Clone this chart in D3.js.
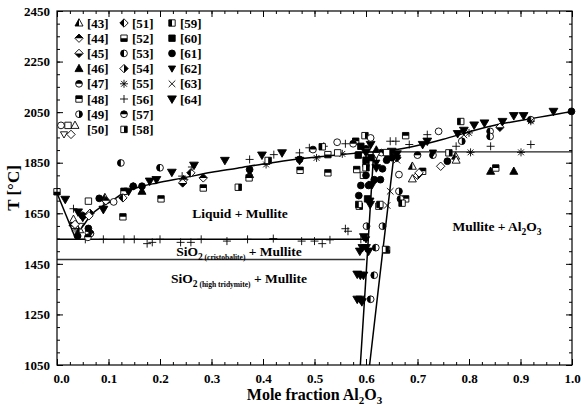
<!DOCTYPE html>
<html><head><meta charset="utf-8">
<script src="https://cdn.jsdelivr.net/npm/d3@7"></script>
<style>
body{margin:0;background:#fff;}
svg{display:block;font-family:"Liberation Serif","Times New Roman",serif;font-weight:bold;}
</style></head>
<body><svg id="c" width="581" height="405"></svg>
<script>
// ---------- DATA (mole fraction Al2O3, T in °C) ----------
const xTicks = [0,0.1,0.2,0.3,0.4,0.5,0.6,0.7,0.8,0.9,1.0];
const yTicks = [1050,1250,1450,1650,1850,2050,2250,2450];

const liquidus = [[0,1730],[0.035,1555],[0.05,1598],[0.067,1645],[0.084,1673],[0.106,1698],[0.129,1731],[0.155,1751],[0.194,1770],[0.246,1790],[0.3,1812],[0.35,1828],[0.4,1845],[0.45,1860],[0.5,1872],[0.55,1882],[0.6,1891],[0.65,1899],[0.7,1918],[0.75,1943],[0.8,1972],[0.85,1998],[0.9,2017],[0.95,2035],[1.0,2053]];
const mulliteLeft = [[0.589,1050],[0.599,1369],[0.615,1893]];
const mulliteRight = [[0.607,1050],[0.625,1369],[0.655,1893]];
const eutecticLine = [[0,1547],[0.602,1547]];
const tridymiteLine = [[0,1467],[0.598,1467]];
const mulliteAluminaLine = [[0.58,1893],[1.0,1893]];

const s43 = [[0.031,1612],[0.093,1712],[0.69,1836],[0.774,1876],[0.044,1585]];
const s44 = [[0.246,1783],[0.284,1790],[0.095,1700]];
const s45 = [[0.244,1770],[0.05,1640],[0.86,1990]];
const s46 = [[0.165,1737],[0.374,1803],[0.842,1816],[0.887,1816],[0.62,1900]];
const s47 = [[0.497,1902],[0.065,1570],[0.6,1905]];
const s48 = [[0.128,1636],[0.202,1707],[0.284,1750],[0.373,1790],[0.472,1820],[0.526,1810],[0.582,1823],[0.677,1707],[0.71,1816],[0.852,1829],[0.13,1737],[0.677,1957],[0.58,1935]];
const s49 = [[0.601,1599],[0.632,1599],[0.664,1737],[0.061,1573],[0.786,1935]];
const s50Circle = [[0.544,1931],[0.609,1948],[0.664,1803],[0.741,1974],[0.11,1695]];
const s50Square = [[0.061,1698],[0.545,1889],[0.64,1890]];
const s50Triangle = [[0.032,1626],[0.69,1786],[0.775,1860]];
const s50Down = [[0.045,1600],[0.62,1880]];
const s50Diamond = [[0.035,1606],[0.703,1810],[0.745,1836],[0.062,1640]];
const s51 = [[0.128,1711],[0.26,1810]];
const s52 = [[0.0,1735],[0.526,1882],[0.64,1505]];
const s53 = [[0.124,1849],[0.2,1830],[0.619,1514],[0.616,1405],[0.609,1310],[0.667,1707],[0.92,2020],[0.841,1974],[0.841,1954],[0.73,1880],[0.6,1840],[0.615,1870]];
const s54 = [[0.064,1650],[0.66,1870],[0.7,1800]];
const s55 = [[0.554,1885],[0.803,1891],[0.901,1891],[0.8,1968],[0.406,1843],[0.504,1869],[0.92,2014],[0.65,1880],[0.035,1590]];
const s56 = [[0.032,1668],[0.09,1678],[0.148,1757],[0.243,1797],[0.262,1833],[0.374,1863],[0.421,1882],[0.471,1889],[0.49,1909],[0.518,1915],[0.56,1925],[0.647,1935],[0.658,1935],[0.684,1922],[0.719,1961],[0.775,1915],[0.842,1915],[0.92,1922],[0.56,1589],[0.565,1579],
  [0.055,1547],[0.09,1547],[0.13,1547],[0.15,1547],[0.175,1530],[0.185,1535],[0.2,1547],[0.24,1535],[0.26,1535],[0.28,1547],[0.33,1540],[0.37,1547],[0.42,1550],[0.475,1540],[0.5,1540],[0.515,1530],[0.53,1545],[0.59,1547]];
const s57 = [[0.06,1555],[0.575,1925],[0.63,1890],[0.7,1880]];
const s58 = [[0.598,1957],[0.638,1507],[0.352,1753],[0.761,1889],[0.41,1859],[0.587,1678],[0.625,1678],[0.595,1800],[0.6,1830]];
const s59 = [[0.586,1685],[0.627,1685],[0.784,2013],[0.515,1913],[0.67,1690]];
const s60 = [[0.603,1707],[0.6,1860],[0.61,1870],[0.585,1880],[0.59,1915]];
const s61 = [[0.082,1709],[0.061,1590],[0.148,1757],[0.165,1757],[0.374,1823],[0.471,1863],[0.586,1720],[0.628,1783],[0.616,1783],[0.632,1826],[0.758,1856],[0.999,2053],[0.05,1640],[0.04,1560],[0.6,1800],[0.605,1760],[0.59,1760],[0.64,1860],[0.65,1870]];
const s62 = [[0.6,1547],[0.62,1850],[0.66,1870],[0.73,1890]];
const s63 = [[0.647,1737],[0.641,1681],[0.66,1860],[0.79,1960]];
const s64 = [[0.016,1705],[0.041,1655],[0.05,1634],[0.09,1665],[0.139,1737],[0.18,1777],[0.193,1783],[0.223,1812],[0.266,1840],[0.326,1859],[0.398,1880],[0.437,1889],[0.471,1859],[0.609,1922],[0.608,1685],[0.596,1557],[0.593,1514],[0.6,1514],[0.583,1409],[0.595,1405],[0.589,1310],[0.583,1310],[0.71,1922],[0.719,1935],[0.778,1965],[0.79,1978],[0.81,1999],[0.83,2007],[0.865,2013],[0.887,2036],[0.906,2036],[0.964,2053],[0.607,1698],[0.612,1764],[0.62,1830],[0.6,1890],[0.64,1880],[0.588,1500],[0.605,1500],[0.589,1405],[0.592,1300],[0.65,1895],[0.66,1885]];

// ---------- STYLES ----------
const seriesStyles = [
  {id:"[43]", data:s43, shape:"triUp", fill:"left"},
  {id:"[44]", data:s44, shape:"diamond", fill:"top"},
  {id:"[45]", data:s45, shape:"diamond", fill:"bottom"},
  {id:"[46]", data:s46, shape:"triUp", fill:"full"},
  {id:"[47]", data:s47, shape:"circle", fill:"top"},
  {id:"[48]", data:s48, shape:"square", fill:"top"},
  {id:"[49]", data:s49, shape:"circle", fill:"right"},
  {id:"[50]", data:null},
  {id:"[51]", data:s51, shape:"diamond", fill:"left"},
  {id:"[52]", data:s52, shape:"square", fill:"bottom"},
  {id:"[53]", data:s53, shape:"circle", fill:"left"},
  {id:"[54]", data:s54, shape:"diamond", fill:"right"},
  {id:"[55]", data:s55, shape:"asterisk", fill:"open"},
  {id:"[56]", data:s56, shape:"plus", fill:"open"},
  {id:"[57]", data:s57, shape:"circle", fill:"top"},
  {id:"[58]", data:s58, shape:"square", fill:"right"},
  {id:"[59]", data:s59, shape:"square", fill:"left"},
  {id:"[60]", data:s60, shape:"square", fill:"full"},
  {id:"[61]", data:s61, shape:"circle", fill:"full"},
  {id:"[62]", data:s62, shape:"triDownSmall", fill:"full"},
  {id:"[63]", data:s63, shape:"cross", fill:"open"},
  {id:"[64]", data:s64, shape:"triDown", fill:"full"}
];
const s50Parts = [
  {data:s50Circle, shape:"circle"},{data:s50Square, shape:"square"},
  {data:s50Triangle, shape:"triUp"},{data:s50Down, shape:"triDownSmall"},
  {data:s50Diamond, shape:"diamond"}
];

const W=581,H=405, L=57, R=572, T=11, B=365;
const svg=d3.select("#c");
const x=d3.scaleLinear().domain([0,1]).range([L,R]);
const y=d3.scaleLinear().domain([1050,2450]).range([B,T]);

const defs=svg.append("defs");
[["top",-10,-10,20,10],["bottom",-10,0,20,10],["left",-10,-10,10,20],["right",0,-10,10,20]].forEach(c=>{
  defs.append("clipPath").attr("id","clip-"+c[0]).append("rect")
   .attr("x",c[1]).attr("y",c[2]).attr("width",c[3]).attr("height",c[4]);
});

const shapes={
  circle:"M3.4,0A3.4,3.4 0 1,1 -3.4,0A3.4,3.4 0 1,1 3.4,0Z",
  square:"M-3.2,-3.2H3.2V3.2H-3.2Z",
  diamond:"M0,-4.2L4.2,0L0,4.2L-4.2,0Z",
  triUp:"M0,-4.3L4,3L-4,3Z",
  triDown:"M0,4.4L4.4,-3.1L-4.4,-3.1Z",
  triDownSmall:"M0,3.6L3.6,-2.6L-3.6,-2.6Z",
  plus:"M-4,0H4M0,-4V4",
  cross:"M-3.3,-3.3L3.3,3.3M-3.3,3.3L3.3,-3.3",
  asterisk:"M-4,0H4M0,-4V4M-2.9,-2.9L2.9,2.9M-2.9,2.9L2.9,-2.9"
};
function drawMarker(g, shape, fill){
  const d=shapes[shape];
  if(shape==="plus"||shape==="cross"||shape==="asterisk"){
    g.append("path").attr("d",d).attr("fill","none").attr("stroke","#000").attr("stroke-width",0.9);
    return;
  }
  g.append("path").attr("d",d).attr("fill",fill==="full"?"#000":"#fff").attr("stroke","#000").attr("stroke-width",0.9);
  if(fill!=="full"&&fill!=="open"){
    g.append("path").attr("d",d).attr("fill","#000").attr("clip-path","url(#clip-"+fill+")");
  }
}

// ---------- LINES ----------
const line=d3.line().x(d=>x(d[0])).y(d=>y(d[1]));
const curve=d3.line().x(d=>x(d[0])).y(d=>y(d[1])).curve(d3.curveMonotoneX);
const lg=svg.append("g").attr("fill","none").attr("stroke","#000");
lg.append("path").attr("d",curve(liquidus.slice(0,2))).attr("stroke-width",1.5);
lg.append("path").attr("d",curve(liquidus.slice(1))).attr("stroke-width",1.5);
lg.append("path").attr("d",line(mulliteLeft)).attr("stroke-width",1.5);
lg.append("path").attr("d",line(mulliteRight)).attr("stroke-width",1.5);
lg.append("path").attr("d",line(eutecticLine)).attr("stroke-width",1.5);
lg.append("path").attr("d",line(tridymiteLine)).attr("stroke-width",1.6).attr("stroke","#333");
lg.append("path").attr("d",line(mulliteAluminaLine)).attr("stroke-width",1.4).attr("stroke","#222");

// ---------- MARKERS ----------
const mg=svg.append("g");
seriesStyles.forEach(s=>{
  if(!s.data) return;
  s.data.forEach(p=>{
    const g=mg.append("g").attr("transform",`translate(${x(p[0])},${y(p[1])})`);
    drawMarker(g,s.shape,s.fill);
  });
});
s50Parts.forEach(s=>{
  s.data.forEach(p=>{
    const g=mg.append("g").attr("transform",`translate(${x(p[0])},${y(p[1])})`);
    drawMarker(g,s.shape,"open");
  });
});

// ---------- AXES ----------
const ax=svg.append("g");
const xMinor=d3.range(0,1.0001,0.025), yMinor=d3.range(1050,2450.1,50);
function styleAxis(g){g.select(".domain").remove();g.selectAll("line").attr("stroke","#000").attr("stroke-width",1);g.selectAll("text").attr("font-family","Liberation Serif").attr("font-weight","bold").attr("font-size",13).attr("fill","#000");}
ax.append("g").attr("transform",`translate(0,${B})`).call(d3.axisBottom(x).tickValues(xMinor).tickSize(-3).tickFormat("")).call(styleAxis);
ax.append("g").attr("transform",`translate(0,${B})`).call(d3.axisBottom(x).tickValues(xTicks).tickSize(-6).tickPadding(9).tickFormat(d3.format(".1f"))).call(styleAxis)
  .selectAll("text").attr("dx",(d)=>d===0?4:0);
ax.append("g").attr("transform",`translate(0,${T})`).call(d3.axisTop(x).tickValues(xMinor).tickSize(-3).tickFormat("")).call(styleAxis);
ax.append("g").attr("transform",`translate(0,${T})`).call(d3.axisTop(x).tickValues(xTicks).tickSize(-6).tickFormat("")).call(styleAxis);
ax.append("g").attr("transform",`translate(${L},0)`).call(d3.axisLeft(y).tickValues(yMinor).tickSize(-3).tickFormat("")).call(styleAxis);
ax.append("g").attr("transform",`translate(${L},0)`).call(d3.axisLeft(y).tickValues(yTicks).tickSize(-6).tickPadding(7).tickFormat(d3.format("d"))).call(styleAxis);
ax.append("g").attr("transform",`translate(${R},0)`).call(d3.axisRight(y).tickValues(yMinor).tickSize(-3).tickFormat("")).call(styleAxis);
ax.append("g").attr("transform",`translate(${R},0)`).call(d3.axisRight(y).tickValues(yTicks).tickSize(-6).tickFormat("")).call(styleAxis);
svg.append("rect").attr("x",L).attr("y",T).attr("width",R-L).attr("height",B-T).attr("fill","none").attr("stroke","#000").attr("stroke-width",1.2);

// ---------- TITLES ----------
const xt=svg.append("text").attr("x",(L+R)/2).attr("y",400).attr("text-anchor","middle").attr("font-size",16);
xt.append("tspan").text("Mole fraction Al");
xt.append("tspan").attr("dy",4).attr("font-size",11).text("2");
xt.append("tspan").attr("dy",-4).text("O");
xt.append("tspan").attr("dy",4).attr("font-size",11).text("3");
svg.append("text").attr("transform",`translate(19,${(T+B)/2}) rotate(-90)`).attr("text-anchor","middle").attr("font-size",17).text("T [°C]");

// ---------- REGION LABELS ----------
function label(px,py,parts){
  const t=svg.append("text").attr("x",px).attr("y",py).attr("text-anchor","middle").attr("font-size",13.5);
  parts.forEach(p=>{const s=t.append("tspan").text(p[0]); if(p[1])s.attr("dy",p[1]); if(p[2])s.attr("font-size",p[2]);});
}
label(240,218,[["Liquid + Mullite"]]);
label(497,231,[["Mullite + Al"],["2",4,9.5],["O",-4],["3",4,9.5]]);
label(239,256,[["SiO"],["2",4,9.5],[" (cristobalite)",0,7.5],[" + Mullite",-4]]);
label(239,283,[["SiO"],["2",4,9.5],[" (high tridymite)",0,7.5],[" + Mullite",-4]]);

// ---------- LEGEND ----------
const legX=[79,124,172], legY0=23, legDY=15.2;
seriesStyles.forEach((s,i)=>{
  const col=i<8?0:(i<16?1:2), row=i<8?i:(i<16?i-8:i-16);
  const ly=legY0+row*legDY;
  if(s.data){
    const g=svg.append("g").attr("transform",`translate(${legX[col]},${ly})`);
    drawMarker(g,s.shape,s.fill);
  } else {
    [["circle",61,ly-4],["square",68,ly-4],["triUp",75,ly-4],["triDownSmall",64,ly+5],["diamond",71,ly+5]].forEach(m=>{
      const g=svg.append("g").attr("transform",`translate(${m[1]},${m[2]})`);
      drawMarker(g,m[0],"open");
    });
  }
  svg.append("text").attr("x",legX[col]+8).attr("y",ly+4.5).attr("font-size",13).text(s.id);
});
</script></body></html>
